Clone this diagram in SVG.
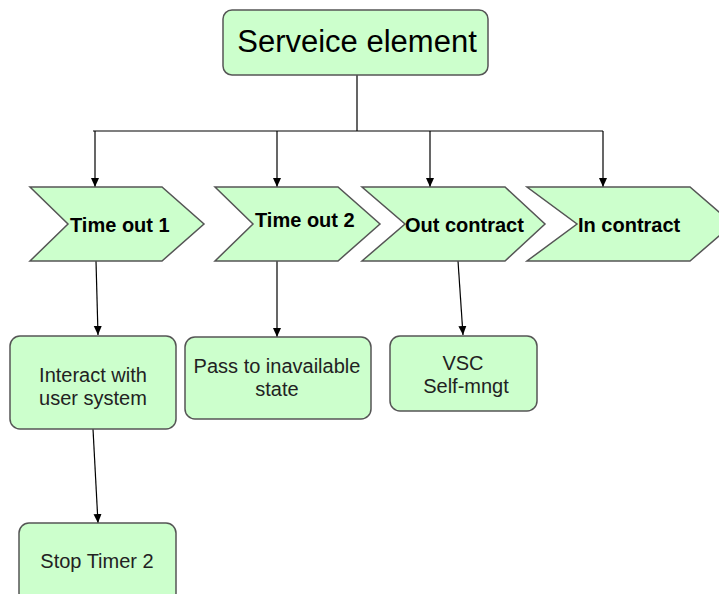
<svg xmlns="http://www.w3.org/2000/svg" width="719" height="594" viewBox="0 0 719 594">
<defs>
<marker id="ah" markerWidth="10" markerHeight="10" refX="9" refY="5" orient="auto" markerUnits="userSpaceOnUse">
<path d="M0,1 L9,5 L0,9 Z" fill="#000"/>
</marker>
<style>
.n{fill:#ccffcc;stroke:#555;stroke-width:1.5}
.c{fill:none;stroke:#000;stroke-width:1.2}
.a{marker-end:url(#ah)}
.t{font-family:"Liberation Sans",Arial,sans-serif;fill:#000}
.b{font-weight:bold;font-size:20px}
.r{font-size:20px;text-anchor:middle;fill:#222}
</style>
</defs>
<rect width="719" height="594" fill="#fff"/>
<g id="connectors">
<path class="c" d="M357,75 V131 M93,131 H603"/>
<path class="c a" d="M95,131 V187"/>
<path class="c a" d="M277,131 V187"/>
<path class="c a" d="M430,131 V187"/>
<path class="c a" d="M603,131 V187"/>
<path class="c a" d="M96,261 L98,335"/>
<path class="c a" d="M277,261 V337"/>
<path class="c a" d="M458,261 L463,335"/>
<path class="c a" d="M93,429 L98,523"/>
</g>
<g id="serveice-element">
<rect class="n" x="223" y="10" width="265" height="65" rx="9"/>
<text class="t" x="357" y="52" font-size="31" text-anchor="middle">Serveice element</text>
</g>
<g id="time-out-1">
<polygon class="n" points="30,187 162,187 204,224 162,261 30,261 68,224"/>
<text class="t b" x="70" y="232">Time out 1</text>
</g>
<g id="time-out-2">
<polygon class="n" points="215,187 338,187 380,224 338,261 215,261 253,224"/>
<text class="t b" x="255" y="227">Time out 2</text>
</g>
<g id="out-contract">
<polygon class="n" points="362,187 505,187 545,224 505,261 362,261 405,224"/>
<text class="t b" x="405" y="232">Out contract</text>
</g>
<g id="in-contract">
<polygon class="n" points="527,187 690,187 733,224 690,261 527,261 577,224"/>
<text class="t b" x="578" y="232">In contract</text>
</g>
<g id="interact">
<rect class="n" x="10" y="336" width="166" height="93" rx="10"/>
<text class="t r" x="93" y="382">Interact with</text>
<text class="t r" x="93" y="405">user system</text>
</g>
<g id="pass">
<rect class="n" x="185" y="337" width="186" height="82" rx="10"/>
<text class="t r" x="277" y="373">Pass to inavailable</text>
<text class="t r" x="277" y="396">state</text>
</g>
<g id="vsc">
<rect class="n" x="390" y="336" width="147" height="75" rx="10"/>
<text class="t r" x="463" y="370">VSC</text>
<text class="t r" x="466" y="393">Self-mngt</text>
</g>
<g id="stop-timer">
<rect class="n" x="19" y="523" width="157" height="80" rx="10"/>
<text class="t r" x="97" y="568">Stop Timer 2</text>
</g>
</svg>
